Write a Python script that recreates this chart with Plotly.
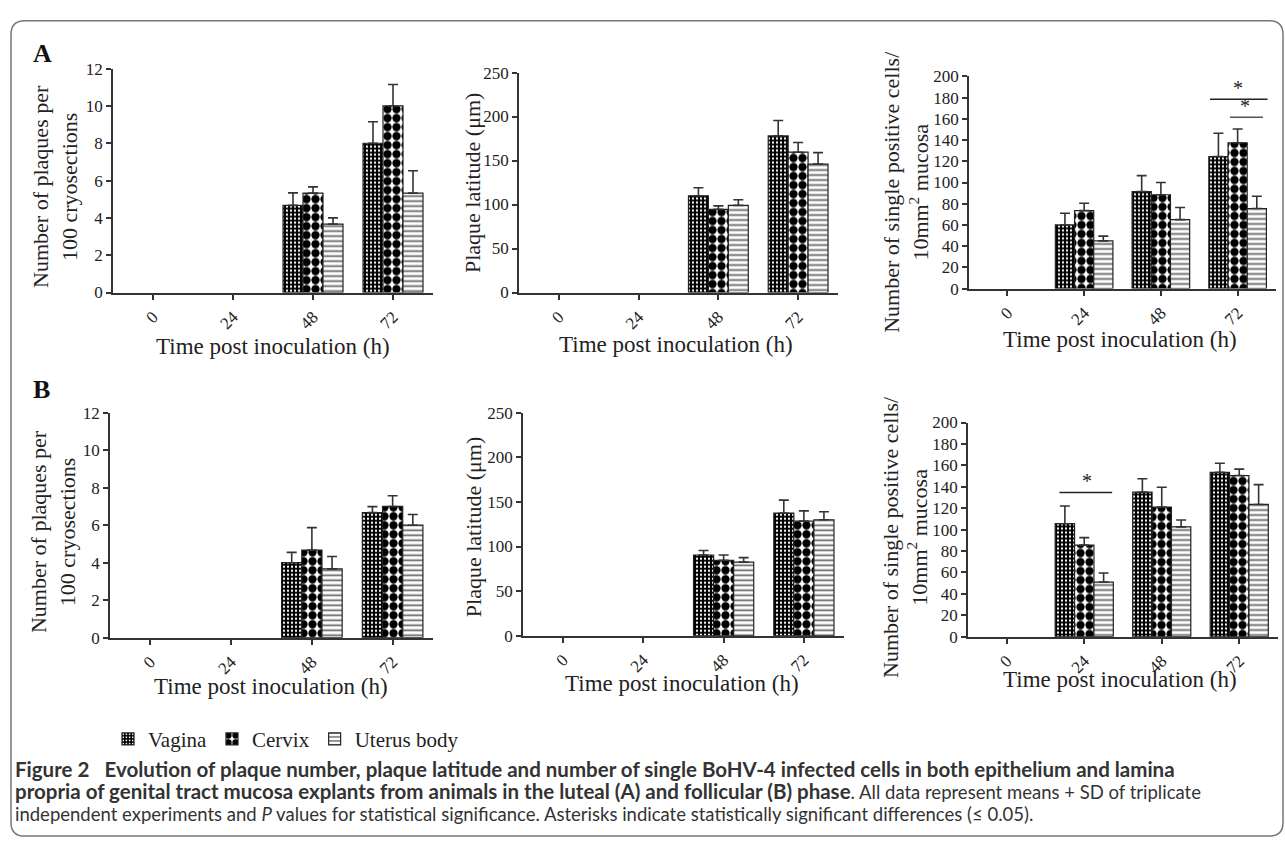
import plotly.graph_objects as go

W, H = 1285, 850

# ---------------- data ----------------
categories = ["0", "24", "48", "72"]
series_names = ["Vagina", "Cervix", "Uterus body"]

# Panel A (luteal phase)
a_plaques_vagina = [None, None, 4.67, 8.0]
a_plaques_vagina_sd = [None, None, 0.67, 1.15]
a_plaques_cervix = [None, None, 5.33, 10.0]
a_plaques_cervix_sd = [None, None, 0.33, 1.15]
a_plaques_uterus = [None, None, 3.67, 5.33]
a_plaques_uterus_sd = [None, None, 0.33, 1.2]

a_latitude_vagina = [None, None, 110, 178]
a_latitude_vagina_sd = [None, None, 9, 17.5]
a_latitude_cervix = [None, None, 94.5, 159.5]
a_latitude_cervix_sd = [None, None, 4, 11]
a_latitude_uterus = [None, None, 99, 146]
a_latitude_uterus_sd = [None, None, 6.5, 13]

a_cells_vagina = [None, 60, 91.5, 124.5]
a_cells_vagina_sd = [None, 11, 15, 22]
a_cells_cervix = [None, 73.5, 88.5, 137.5]
a_cells_cervix_sd = [None, 7, 11.5, 13]
a_cells_uterus = [None, 45, 65, 75.5]
a_cells_uterus_sd = [None, 4.5, 11.5, 11.5]

# Panel B (follicular phase)
b_plaques_vagina = [None, None, 4.0, 6.67]
b_plaques_vagina_sd = [None, None, 0.55, 0.32]
b_plaques_cervix = [None, None, 4.67, 7.0]
b_plaques_cervix_sd = [None, None, 1.2, 0.57]
b_plaques_uterus = [None, None, 3.67, 6.0]
b_plaques_uterus_sd = [None, None, 0.66, 0.57]

b_latitude_vagina = [None, None, 90.5, 137.5]
b_latitude_vagina_sd = [None, None, 5, 14.5]
b_latitude_cervix = [None, None, 84.5, 128.5]
b_latitude_cervix_sd = [None, None, 6, 11.5]
b_latitude_uterus = [None, None, 82.5, 130]
b_latitude_uterus_sd = [None, None, 5, 9]

b_cells_vagina = [None, 105.5, 135, 153.5]
b_cells_vagina_sd = [None, 16.5, 12.5, 8.5]
b_cells_cervix = [None, 85.5, 121, 150.5]
b_cells_cervix_sd = [None, 7, 18.5, 6]
b_cells_uterus = [None, 51, 102.5, 123.5]
b_cells_uterus_sd = [None, 8.5, 6.5, 18.5]

# significance brackets: (panel, x_start, x_end, y_line, x_star)
sig_panel = [3, 3, 6]
sig_x0 = [2.64, 2.90, 0.68]
sig_x1 = [3.39, 3.33, 1.36]
sig_y = [178.5, 161.5, 134.7]
sig_star_x = [3.0, 3.09, 1.04]

y_max = [12, 250, 200, 12, 250, 200]
y_dtick = [2, 50, 20, 2, 50, 20]

y_titles = [
    "Number of plaques per<br>100 cryosections",
    "Plaque latitude (\u03bcm)",
    "Number of single positive cells/<br>10mm<sup>2</sup> mucosa",
] * 2
x_title = "Time post inoculation (h)"

panel_values = [
    [(a_plaques_vagina, a_plaques_vagina_sd), (a_plaques_cervix, a_plaques_cervix_sd), (a_plaques_uterus, a_plaques_uterus_sd)],
    [(a_latitude_vagina, a_latitude_vagina_sd), (a_latitude_cervix, a_latitude_cervix_sd), (a_latitude_uterus, a_latitude_uterus_sd)],
    [(a_cells_vagina, a_cells_vagina_sd), (a_cells_cervix, a_cells_cervix_sd), (a_cells_uterus, a_cells_uterus_sd)],
    [(b_plaques_vagina, b_plaques_vagina_sd), (b_plaques_cervix, b_plaques_cervix_sd), (b_plaques_uterus, b_plaques_uterus_sd)],
    [(b_latitude_vagina, b_latitude_vagina_sd), (b_latitude_cervix, b_latitude_cervix_sd), (b_latitude_uterus, b_latitude_uterus_sd)],
    [(b_cells_vagina, b_cells_vagina_sd), (b_cells_cervix, b_cells_cervix_sd), (b_cells_uterus, b_cells_uterus_sd)],
]

# ---------------- layout geometry (pixels) ----------------
# (left, right, top, bottom) of each plot area
boxes = [
    (113, 433, 61, 290),
    (519, 838, 65, 290),
    (969, 1276, 69, 286),
    (110, 433, 413, 643),
    (523, 844, 413, 641),
    (968, 1278, 423, 642),
]
ytitle_pos = [(55, 182), (472, 178), (906, 187), (53, 535), (473, 530), (905, 540)]
xtitle_pos = [(273, 345), (676, 343), (1120, 338), (271, 693), (682, 690), (1120, 686)]

SERIF = "Liberation Serif, Times New Roman, serif"
AX = "#333333"


def px(x):
    return x / W


def py(y):
    return 1 - y / H


patterns = [
    dict(shape=".", bgcolor="black", fgcolor="white", size=4, solidity=0.25, fillmode="replace"),
    dict(shape=".", bgcolor="white", fgcolor="black", size=9, solidity=0.66, fillmode="replace"),
    dict(shape="-", bgcolor="white", fgcolor="#666666", size=5, solidity=0.35, fillmode="replace"),
]

fig = go.Figure()

for p in range(6):
    sfx = "" if p == 0 else str(p + 1)
    for s, (vals, sd) in enumerate(panel_values[p]):
        fig.add_trace(go.Bar(
            x=categories, y=vals, name=series_names[s],
            legendgroup=series_names[s], showlegend=(p == 0),
            xaxis="x" + sfx, yaxis="y" + sfx,
            marker=dict(color="white", line=dict(color="#222222", width=1.2),
                        pattern=patterns[s]),
            error_y=dict(type="data", symmetric=False, array=sd,
                         arrayminus=[0] * len(sd), color="#333333",
                         thickness=1.6, width=5),
        ))

layout = dict(
    width=W, height=H,
    margin=dict(l=0, r=0, t=0, b=0),
    paper_bgcolor="white", plot_bgcolor="white",
    barmode="group", bargap=0.25, bargroupgap=0,
    font=dict(family=SERIF, color="#222222"),
    showlegend=True,
    legend=dict(orientation="h", x=px(108), y=py(726), xanchor="left", yanchor="top",
                font=dict(family=SERIF, size=21, color="#222222"),
                bgcolor="rgba(0,0,0,0)", itemwidth=30, traceorder="normal",
                tracegroupgap=0),
)

annotations = []
shapes = []

for p in range(6):
    sfx = "" if p == 0 else str(p + 1)
    l, r, t, b = boxes[p]
    layout["xaxis" + sfx] = dict(
        domain=[px(l), px(r)], anchor="y" + sfx, type="category",
        categoryorder="array", categoryarray=categories,
        range=[-0.5, 3.5], showline=True, linecolor=AX, linewidth=1.5,
        ticks="outside", ticklen=6, tickwidth=1.5, tickcolor=AX,
        tickangle=-45, tickfont=dict(family=SERIF, size=17, color="#222222"),
        showgrid=False, zeroline=False, fixedrange=True,
    )
    layout["yaxis" + sfx] = dict(
        domain=[py(b), py(t)], anchor="x" + sfx,
        range=[0, y_max[p]], dtick=y_dtick[p], tick0=0,
        showline=True, linecolor=AX, linewidth=1.5,
        ticks="outside", ticklen=5, tickwidth=1.5, tickcolor=AX,
        tickfont=dict(family=SERIF, size=17, color="#222222"),
        showgrid=False, zeroline=False, fixedrange=True,
    )
    ytx, yty = ytitle_pos[p]
    annotations.append(dict(text=y_titles[p], x=px(ytx), y=py(yty), xref="paper", yref="paper",
                            textangle=-90, showarrow=False, xanchor="center", yanchor="middle",
                            font=dict(family=SERIF, size=22, color="#222222")))
    xtx, xty = xtitle_pos[p]
    annotations.append(dict(text=x_title, x=px(xtx), y=py(xty), xref="paper", yref="paper",
                            showarrow=False, xanchor="center", yanchor="middle",
                            font=dict(family=SERIF, size=23, color="#222222")))

# significance brackets
for i in range(len(sig_panel)):
    sfx = str(sig_panel[i])
    shapes.append(dict(type="line", xref="x" + sfx, yref="y" + sfx,
                       x0=sig_x0[i], x1=sig_x1[i], y0=sig_y[i], y1=sig_y[i],
                       line=dict(color="#222222" if i != 1 else "#555555", width=1.5)))
    annotations.append(dict(text="*", x=sig_star_x[i], y=sig_y[i], xref="x" + sfx, yref="y" + sfx,
                            showarrow=False, xanchor="center", yanchor="bottom", yshift=-2,
                            font=dict(family=SERIF, size=20, color="#222222")))

# panel letters
annotations.append(dict(text="<b>A</b>", x=px(42), y=py(46), xref="paper", yref="paper",
                        showarrow=False, xanchor="center", yanchor="middle",
                        font=dict(family=SERIF, size=26, color="#111111")))
annotations.append(dict(text="<b>B</b>", x=px(41), y=py(389), xref="paper", yref="paper",
                        showarrow=False, xanchor="center", yanchor="middle",
                        font=dict(family=SERIF, size=26, color="#111111")))

# caption
CAP = "Lato, Liberation Sans, sans-serif"
REG = '<span style="font-size:18.5px">'
caption_lines = [
    "<b>Figure 2\u2002 Evolution of plaque number, plaque latitude and number of single BoHV-4 infected cells in both epithelium and lamina</b>",
    "<b>propria of genital tract mucosa explants from animals in the luteal (A) and follicular (B) phase</b>"
    + REG + ". All data represent means + SD of triplicate</span>",
    REG + "independent experiments and <i>P</i> values for statistical significance. "
    "Asterisks indicate statistically significant differences (\u2264 0.05).</span>",
]
caption_y = [777, 800, 823]
for txt, yy in zip(caption_lines, caption_y):
    annotations.append(dict(text=txt, x=px(13), y=py(yy), xref="paper", yref="paper",
                            showarrow=False, xanchor="left", yanchor="middle", align="left",
                            font=dict(family=CAP, size=20.5, color="#333333")))

# rounded frame
x0, x1, y0, y1, r = 11, 1283, 12, 846, 14
rx, ry = r / W, r / H
X0, X1, Y0, Y1 = px(x0), px(x1), py(y0), py(y1)
path = (f"M {X0+rx},{Y0} L {X1-rx},{Y0} Q {X1},{Y0} {X1},{Y0-ry} "
        f"L {X1},{Y1+ry} Q {X1},{Y1} {X1-rx},{Y1} L {X0+rx},{Y1} "
        f"Q {X0},{Y1} {X0},{Y1+ry} L {X0},{Y0-ry} Q {X0},{Y0} {X0+rx},{Y0} Z")
shapes.append(dict(type="path", xref="paper", yref="paper", path=path,
                   line=dict(color="#777777", width=1.5), layer="below"))

layout["annotations"] = annotations
layout["shapes"] = shapes
fig.update_layout(**layout)

fig.write_html("out.html", config={"displayModeBar": False},
               post_script="document.body.style.margin='0';")
